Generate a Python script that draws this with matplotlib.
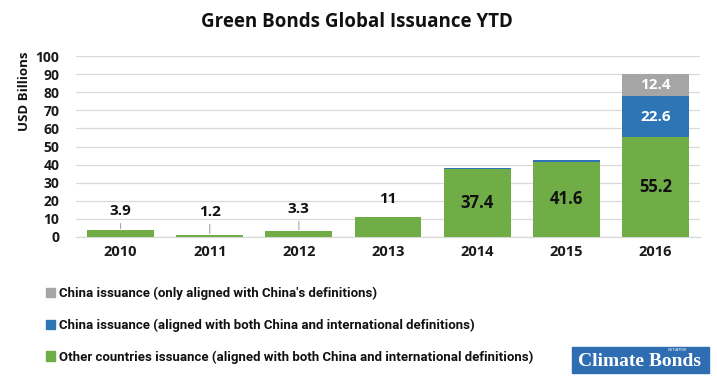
import matplotlib
matplotlib.use('Agg')
import matplotlib.pyplot as plt
from matplotlib.patches import Rectangle, Patch

years = ['2010', '2011', '2012', '2013', '2014', '2015', '2016']
other_countries = [3.9, 1.2, 3.3, 11, 37.4, 41.6, 55.2]
china_both = [0, 0, 0, 0, 0.6, 0.7, 22.6]
china_only = [0, 0, 0, 0, 0, 0, 12.4]
legend_labels = [
    "China issuance (only aligned with China's definitions)",
    "China issuance (aligned with both China and international definitions)",
    "Other countries issuance (aligned with both China and international definitions)",
]

GREEN = '#70ad47'
BLUE = '#2e75b6'
GRAY = '#a5a5a5'
GRID = '#d9d9d9'

plt.rcParams['font.family'] = ['Open Sans', 'DejaVu Sans']

W, H = 717, 378
fig = plt.figure(figsize=(W / 100, H / 100), dpi=100)
ax = fig.add_axes([76 / W, (H - 237) / H, (700 - 76) / W, (237 - 56) / H])

x = list(range(len(years)))
bw = 0.75
ax.bar(x, other_countries, bw, color=GREEN, zorder=3)
ax.bar(x, china_both, bw, bottom=other_countries, color=BLUE, zorder=3)
bottom3 = [a + b for a, b in zip(other_countries, china_both)]
ax.bar(x, china_only, bw, bottom=bottom3, color=GRAY, zorder=3)

ax.set_xlim(-0.5, 6.5)
ax.set_ylim(0, 100)
ax.set_yticks(range(0, 101, 10))
ax.set_xticks(x)
ax.set_xticklabels(years)
ax.yaxis.grid(True, color=GRID, lw=0.9, zorder=0)
ax.set_axisbelow(True)
for s in ['left', 'right', 'top']:
    ax.spines[s].set_visible(False)
ax.spines['bottom'].set_color(GRID)
ax.spines['bottom'].set_linewidth(0.9)
ax.tick_params(axis='both', length=0)
ax.tick_params(axis='y', pad=12)
ax.tick_params(axis='x', pad=6)
for t in ax.get_yticklabels():
    t.set_fontweight('bold'); t.set_fontsize(10); t.set_color('#1a1a1a')
for t in ax.get_xticklabels():
    t.set_fontweight('bold'); t.set_fontsize(10.5); t.set_color('#1a1a1a')

# labels
lift_px = [19, 23, 22, 18]
for i, v in enumerate(other_countries):
    if v < 20:
        lift = lift_px[i] * 72 / 100
        leader = i < 3
        ax.annotate(f'{v:g}', xy=(i, v), xytext=(0, lift), textcoords='offset points',
                    ha='center', va='center', fontsize=11, fontweight='bold', color='#111111',
                    arrowprops=dict(arrowstyle='-', color='#a6a6a6', lw=0.8,
                                    shrinkA=2, shrinkB=1) if leader else None)
    else:
        ax.text(i, v / 2, f'{v:g}', ha='center', va='center', fontsize=12,
                fontweight='bold', color='#111111', zorder=4)
for i, v in enumerate(china_both):
    if v > 5:
        ax.text(i, other_countries[i] + v / 2, f'{v:g}', ha='center', va='center',
                fontsize=11, fontweight='bold', color='white', zorder=4)
for i, v in enumerate(china_only):
    if v > 5:
        ax.text(i, bottom3[i] + v / 2, f'{v:g}', ha='center', va='center',
                fontsize=11, fontweight='bold', color='white', zorder=4)

fig.text(357 / W, 1 - 22 / H, 'Green Bonds Global Issuance YTD', ha='center', va='center',
         fontsize=13.5, fontweight='bold', color='#111111')
fig.text(25 / W, 1 - 91 / H, 'USD Billions', rotation=90, ha='center', va='center',
         fontsize=9.5, fontweight='bold', color='#111111')

handles = [Patch(color=GRAY), Patch(color=BLUE), Patch(color=GREEN)]
leg = fig.legend(handles, legend_labels, loc='upper left', bbox_to_anchor=(34 / W, 1 - 275 / H),
                 frameon=False, handlelength=0.7, handleheight=0.7, handletextpad=0.3,
                 labelspacing=1.4, prop=dict(family=['Roboto', 'DejaVu Sans'],
                                             size=9.5, weight='bold'))
for t in leg.get_texts():
    t.set_color('#111111')

# logo
fig.patches.append(Rectangle((572 / W, 1 - 373 / H), (709 - 572) / W, 26 / H,
                             transform=fig.transFigure, color='#2f6db3', zorder=5))
fig.text(640 / W, 1 - 362 / H, 'Climate Bonds', ha='center', va='center', color='white',
         fontsize=14, fontweight='bold', family=['Liberation Serif', 'DejaVu Serif'], zorder=6)
fig.text(677 / W, 1 - 350 / H, 'INITIATIVE', ha='center', va='center', color='white',
         fontsize=2.8, family=['DejaVu Sans'], zorder=6)

fig.savefig('out.png', dpi=100)
